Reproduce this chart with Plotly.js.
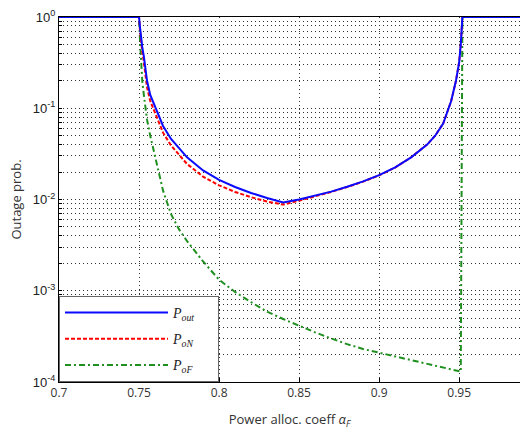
<!DOCTYPE html>
<html>
<head>
<meta charset="utf-8">
<script src="https://cdn.plot.ly/plotly-3.0.1.min.js"></script>
<style>html,body{margin:0;padding:0;background:#fff;}#chart{width:520px;height:434px;}</style>
</head>
<body>
<div id="chart"></div>
<script>
// Power allocation coefficient alpha_F
const alphaF = [0.70, 0.75, 0.7505, 0.751, 0.752, 0.753, 0.754, 0.755, 0.757, 0.76, 0.765, 0.77, 0.775, 0.78, 0.79, 0.80, 0.81, 0.82, 0.83, 0.84, 0.85, 0.86, 0.87, 0.88, 0.89, 0.90, 0.91, 0.92, 0.93, 0.935, 0.94, 0.945, 0.948, 0.95, 0.951, 0.952, 0.988];
// P_out
const pOut = [1, 1, 0.8, 0.65, 0.47, 0.37, 0.28, 0.2, 0.14, 0.105, 0.064, 0.046, 0.036, 0.029, 0.0208, 0.0164, 0.0137, 0.0118, 0.0104, 0.0093, 0.0100, 0.0110, 0.0122, 0.0138, 0.0158, 0.0185, 0.0225, 0.029, 0.040, 0.050, 0.068, 0.12, 0.2, 0.32, 0.5, 1, 1];
// P_oN
const pON = [1, 1, 0.75, 0.6, 0.42, 0.32, 0.24, 0.17, 0.12, 0.088, 0.054, 0.039, 0.031, 0.0245, 0.0178, 0.0143, 0.0121, 0.0106, 0.0095, 0.0088, 0.0097, 0.0108, 0.0121, 0.0137, 0.0157, 0.0184, 0.0224, 0.029, 0.040, 0.050, 0.068, 0.12, 0.2, 0.32, 0.5, 1, 1];
// P_oF
const pOF = [1, 1, 0.6, 0.4, 0.2, 0.14, 0.1, 0.075, 0.05, 0.03, 0.0125, 0.0069, 0.0047, 0.0035, 0.0021, 0.00132, 0.00097, 0.00075, 0.00059, 0.00049, 0.00041, 0.00035, 0.00030, 0.00026, 0.00023, 0.00021, 0.00019, 0.000172, 0.000157, 0.00015, 0.000144, 0.000138, 0.000134, 0.000131, 0.00013, 1, 1];

const pad = '\u00a0\u00a0\u00a0\u00a0\u00a0';
const seriesNames = ['<i>P</i><sub><i>out</i></sub>' + pad, '<i>P</i><sub><i>oN</i></sub>' + pad, '<i>P</i><sub><i>oF</i></sub>' + pad];
const xTickVals = [0.7, 0.75, 0.8, 0.85, 0.9, 0.95];
const xTickText = ['0.7', '0.75', '0.8', '0.85', '0.9', '0.95'];
const decades = [-4, -3, -2, -1, 0];
const decadeLabels = ['10<sup>-4</sup>', '10<sup>-3</sup>', '10<sup>-2</sup>', '10<sup>-1</sup>', '10<sup>0</sup>'];

const yTickVals = [];
const yTickText = [];
decades.forEach((d, i) => {
  const maxK = d === 0 ? 1 : 9;
  for (let k = 1; k <= maxK; k++) {
    yTickVals.push(k * Math.pow(10, d));
    yTickText.push(k === 1 ? decadeLabels[i] : '');
  }
});

const traces = [
  {x: alphaF, y: pOut, name: seriesNames[0], legendgroup: 'a', legendrank: 1, mode: 'lines', line: {color: '#0a0aff', width: 2}},
  {x: alphaF, y: pON, name: seriesNames[1], legendgroup: 'b', legendrank: 2, mode: 'lines', line: {color: '#ff0000', width: 2, dash: '4px,2px'}},
  {x: alphaF, y: pOF, name: seriesNames[2], legendgroup: 'c', legendrank: 3, mode: 'lines', line: {color: '#1f8f1f', width: 2, dash: '6px,3px,2px,3px'}}
];
// draw blue on top
const data = [traces[2], traces[1], traces[0]];

const layout = {
  width: 520, height: 434,
  margin: {l: 59, r: 0, t: 17, b: 52},
  paper_bgcolor: '#fff', plot_bgcolor: '#fff',
  showlegend: true,
  legend: {
    x: 0, y: 0, xanchor: 'left', yanchor: 'bottom',
    bgcolor: '#fff', bordercolor: '#666', borderwidth: 1,
    font: {family: 'Liberation Serif', size: 14, color: '#222'},
    traceorder: 'grouped', tracegroupgap: 5, itemwidth: 103
  },
  font: {family: 'Liberation Sans', size: 12, color: '#222'},
  xaxis: {
    range: [0.7, 0.988], tickvals: xTickVals, ticktext: xTickText,
    showgrid: true, gridcolor: '#333', griddash: '1px,3px', gridwidth: 1,
    showline: true, linecolor: '#000', linewidth: 1, mirror: true,
    ticks: 'inside', ticklen: 4, tickcolor: '#000', zeroline: false,
    tickfont: {family: 'Open Sans', size: 12, color: '#333'},
    title: {text: 'Power alloc. coeff <i>α</i><sub><i>F</i></sub>', font: {family: 'Open Sans', size: 13, color: '#333'}, standoff: 14}
  },
  yaxis: {
    type: 'log', range: [-4, 0], tickvals: yTickVals, ticktext: yTickText,
    showgrid: true, gridcolor: '#333', griddash: '1px,3px', gridwidth: 1,
    showline: true, linecolor: '#000', linewidth: 1, mirror: true,
    ticks: 'inside', ticklen: 3, tickcolor: '#000', zeroline: false,
    tickfont: {family: 'Liberation Sans', size: 13, color: '#222'},
    title: {text: 'Outage prob.', font: {family: 'Open Sans', size: 13, color: '#333'}, standoff: 8}
  }
};

Plotly.newPlot('chart', data, layout, {displayModeBar: false, staticPlot: true});
</script>
</body>
</html>
